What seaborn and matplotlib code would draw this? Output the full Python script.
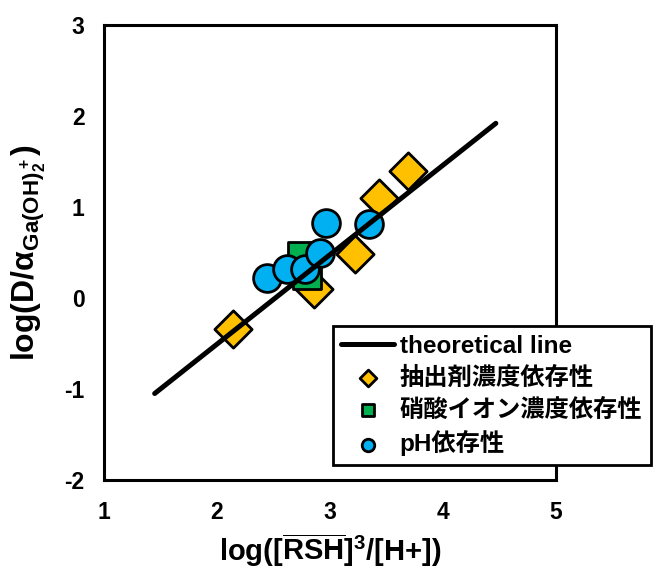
import matplotlib
matplotlib.use("Agg")
import matplotlib.pyplot as plt
import seaborn as sns
import pandas as pd

# ---- data ----
line_x = [1.45, 4.47]
line_y = [-1.05, 1.92]

ext_x = [2.14, 2.86, 3.22, 3.44, 3.69]
ext_y = [-0.34, 0.10, 0.48, 1.10, 1.40]

nit_x = [2.75, 2.80]
nit_y = [0.46, 0.25]

ph_x = [2.44, 2.62, 2.78, 2.91, 2.97, 3.35]
ph_y = [0.22, 0.32, 0.32, 0.49, 0.82, 0.81]

labels = ["theoretical line", "抽出剤濃度依存性", "硝酸イオン濃度依存性", "pH依存性"]
xticks = [1, 2, 3, 4, 5]
yticks = [-2, -1, 0, 1, 2, 3]

sns.set_style("white")
plt.rcParams["font.family"] = ["Liberation Sans", "Noto Sans CJK JP"]
plt.rcParams["font.weight"] = "bold"
plt.rcParams["text.color"] = "black"
plt.rcParams["axes.labelcolor"] = "black"
plt.rcParams["xtick.color"] = "black"
plt.rcParams["ytick.color"] = "black"
plt.rcParams["mathtext.fontset"] = "custom"
plt.rcParams["mathtext.rm"] = "Liberation Sans"
plt.rcParams["mathtext.bf"] = "Liberation Sans:bold"
plt.rcParams["mathtext.it"] = "Liberation Sans:italic"

fig = plt.figure(figsize=(6.53, 5.70), dpi=100)
ax = fig.add_axes([0.159, 0.158, 0.692, 0.798])

df_line = pd.DataFrame({"x": line_x, "y": line_y})
df_ext = pd.DataFrame({"x": ext_x, "y": ext_y})
df_nit = pd.DataFrame({"x": nit_x, "y": nit_y})
df_ph = pd.DataFrame({"x": ph_x, "y": ph_y})

sns.scatterplot(data=df_ext, x="x", y="y", marker="D", s=360, color="#FFC000",
                edgecolor="black", linewidth=2, ax=ax, zorder=3, label=labels[1])
sns.scatterplot(data=df_nit, x="x", y="y", marker="s", s=380, color="#00B050",
                edgecolor="black", linewidth=2, ax=ax, zorder=4, label=labels[2])
sns.scatterplot(data=df_ph, x="x", y="y", marker="o", s=400, color="#00B0F0",
                edgecolor="black", linewidth=2, ax=ax, zorder=5, label=labels[3])
sns.lineplot(data=df_line, x="x", y="y", color="black", linewidth=3.6, ax=ax,
             zorder=6, label=labels[0], solid_capstyle="round")

ax.set_xlim(1, 5)
ax.set_ylim(-2, 3)
ax.set_xticks(xticks)
ax.set_yticks(yticks)
ax.set_xticklabels([str(t) for t in xticks], fontsize=16.5, fontweight="bold",
                   color="black")
ax.set_yticklabels([str(t) for t in yticks], fontsize=16.5, fontweight="bold",
                   color="black")
ax.tick_params(axis="both", direction="in", length=7, width=1.5, pad=14,
               color="black")
ax.tick_params(axis="x", pad=15)
for sp in ax.spines.values():
    sp.set_visible(True)
    sp.set_color("black")
    sp.set_linewidth(2.2)

ax.set_xlabel(r"log([$\overline{\mathbf{RSH}}$]$^{\mathregular{3}}$/[H+])",
              fontsize=21, fontweight="bold", labelpad=6, color="black")
ax.set_ylabel(r"log(D/α$_{\mathregular{Ga(OH)_2^+}}$)", fontsize=23,
              fontweight="bold", color="black")
ax.yaxis.set_label_coords(-0.124, 0.5)

h, l = ax.get_legend_handles_labels()
order = [l.index(t) for t in labels]
leg = ax.legend([h[i] for i in order], [l[i] for i in order],
                loc="lower left", bbox_to_anchor=(0.507, 0.033),
                fontsize=17.5, frameon=True, fancybox=False, framealpha=1,
                edgecolor="black", markerscale=0.45, handlelength=2.15,
                handletextpad=0.25, labelspacing=0.36, borderpad=0.35,
                borderaxespad=0)
leg.get_frame().set_linewidth(2)
leg.set_zorder(10)
for t in leg.get_texts():
    t.set_fontweight("bold")
    t.set_color("black")

fig.savefig("out.png", dpi=100)
